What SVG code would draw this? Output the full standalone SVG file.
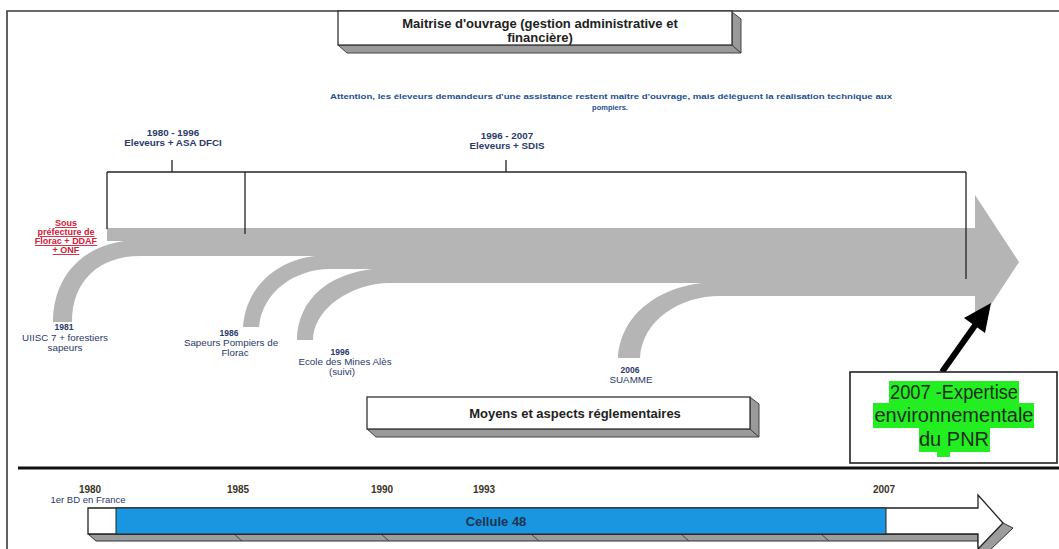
<svg xmlns="http://www.w3.org/2000/svg" width="1059" height="549" viewBox="0 0 1059 549">
<style>
  text { font-family: "Liberation Sans", Arial, sans-serif; }
  .band { fill: #b5b5b5; }
  .frame { stroke: #3a3a3a; stroke-width: 1.6; fill: none; }
  .ln { stroke: #222; stroke-width: 1.3; fill: none; }
  .boxface { fill: #fff; stroke: #333; stroke-width: 1.3; }
  .bevel { fill: #9a9a9a; stroke: #444; stroke-width: 1; }
  .title { font-size: 13px; font-weight: bold; fill: #222; text-anchor: middle; }
  .small { font-size: 8.5px; font-weight: bold; fill: #2a3a6a; text-anchor: middle; }
  .period { font-size: 9.8px; font-weight: bold; fill: #2a3a6a; text-anchor: middle; }
  .desc { font-size: 9.8px; fill: #2a3a6a; text-anchor: middle; }
  .red { font-size: 9px; font-weight: bold; fill: #d0203a; text-anchor: middle; text-decoration: underline; }
  .year { font-size: 10px; font-weight: bold; fill: #3b3424; text-anchor: middle; }
  .green { font-size: 20px; fill: #1c2e1c; text-anchor: middle; }
  .hl { fill: #22ee22; }
</style>

<!-- outer frame -->
<path class="frame" d="M7,549 L7,11 L1059,11"/>
<!-- divider -->
<line x1="18" y1="468" x2="1059" y2="468" stroke="#111" stroke-width="3"/>

<!-- big gray arrow -->
<g id="main-arrow">
  <rect class="band" x="107" y="228" width="869" height="13"/>
  <rect class="band" x="138" y="240" width="838" height="16"/>
  <rect class="band" x="325" y="255" width="651" height="14"/>
  <rect class="band" x="385" y="268" width="591" height="15"/>
  <rect class="band" x="715" y="282" width="261" height="14"/>
  <path class="band" d="M53,322 C53,275 85,240 140,240 L140,256 C100,256 72,280 72,322 Z"/>
  <path class="band" d="M243,327 C246,285 280,255 330,255 L330,269 C295,269 262,292 259,327 Z"/>
  <path class="band" d="M297,340 C297,300 330,268 390,268 L390,283 C350,283 313,310 313,340 Z"/>
  <path class="band" d="M618,358 C620,315 660,282 720,282 L720,296 C680,296 642,320 640,358 Z"/>
  <polygon class="band" points="975,195 1019,262 975,329"/>
</g>

<!-- connectors -->
<g id="connectors">
  <line class="ln" x1="107" y1="172" x2="966" y2="172"/>
  <line class="ln" x1="107" y1="172" x2="107" y2="229"/>
  <line class="ln" x1="245" y1="172" x2="245" y2="234"/>
  <line class="ln" x1="966" y1="172" x2="966" y2="279"/>
  <line class="ln" x1="172" y1="160" x2="172" y2="172"/>
  <line class="ln" x1="506" y1="160" x2="506" y2="172"/>
  <line x1="942" y1="372" x2="976" y2="324" stroke="#000" stroke-width="6"/>
  <polygon points="991,303 964,318 985,333" fill="#000"/>
</g>

<!-- top box -->
<g id="node-maitrise">
  <polygon class="bevel" points="338,45 732,45 741,53 347,53"/>
  <polygon class="bevel" points="732,12 741,19 741,53 732,45"/>
  <rect class="boxface" x="338" y="11" width="394" height="34"/>
  <text class="title" x="540" y="28">Maitrise d'ouvrage (gestion administrative et</text>
  <text class="title" x="540" y="42">financière)</text>
</g>

<g id="node-attention">
  <text x="611" y="99" font-size="7.5" font-weight="bold" fill="#1d4f91" text-anchor="middle" textLength="562" lengthAdjust="spacingAndGlyphs">Attention, les éleveurs demandeurs d'une assistance restent maître d'ouvrage, mais délèguent la réalisation technique aux</text>
  <text x="610" y="110" font-size="7.5" font-weight="bold" fill="#1d4f91" text-anchor="middle">pompiers.</text>
</g>

<g id="node-1980-1996">
  <text class="period" x="173" y="136">1980 - 1996</text>
  <text class="period" x="173" y="146">Eleveurs + ASA DFCI</text>
</g>
<g id="node-1996-2007">
  <text class="period" x="507" y="139">1996 - 2007</text>
  <text class="period" x="507" y="149">Eleveurs + SDIS</text>
</g>

<g id="node-sousprefecture">
  <text class="red" x="66" y="226">Sous</text>
  <text class="red" x="66" y="235">préfecture de</text>
  <text class="red" x="66" y="244">Florac + DDAF</text>
  <text class="red" x="66" y="253">+ ONF</text>
</g>

<g id="node-1981">
  <text class="small" x="64" y="330">1981</text>
  <text class="desc" x="65" y="341">UIISC  7 + forestiers</text>
  <text class="desc" x="65" y="351">sapeurs</text>
</g>
<g id="node-1986">
  <text class="small" x="229" y="336">1986</text>
  <text class="desc" x="231" y="346">Sapeurs Pompiers de</text>
  <text class="desc" x="235" y="356">Florac</text>
</g>
<g id="node-1996">
  <text class="small" x="340" y="355">1996</text>
  <text class="desc" x="345" y="365">Ecole des Mines Alès</text>
  <text class="desc" x="342" y="375">(suivi)</text>
</g>
<g id="node-2006">
  <text class="small" x="630" y="373">2006</text>
  <text class="desc" x="631" y="383">SUAMME</text>
</g>

<!-- bottom label box -->
<g id="node-moyens">
  <polygon class="bevel" points="367,429 750,429 759,437 376,437"/>
  <polygon class="bevel" points="750,397 759,404 759,437 750,429"/>
  <rect class="boxface" x="367" y="397" width="383" height="32"/>
  <text class="title" x="575" y="418">Moyens et aspects réglementaires</text>
</g>

<!-- green expertise box -->
<g id="node-expertise">
  <rect x="850" y="372" width="207" height="91" fill="#fff" stroke="#222" stroke-width="1.6"/>
  <rect class="hl" x="889" y="381" width="130" height="22"/>
  <rect class="hl" x="873" y="403" width="161" height="25"/>
  <rect class="hl" x="919" y="428" width="71" height="24"/>
  <rect class="hl" x="937" y="451" width="13" height="6"/>
  <text class="green" x="954" y="399" textLength="128" lengthAdjust="spacingAndGlyphs">2007 -Expertise</text>
  <text class="green" x="954" y="422">environnementale</text>
  <text class="green" x="954" y="446">du PNR</text>
</g>

<!-- bottom timeline -->
<g id="node-timeline">
  <polygon points="88,534 978,534 985,541 96,541" fill="#9c9c9c" stroke="#333" stroke-width="1"/>
  <polygon points="978,534 978,547 985,549 985,541" fill="#9c9c9c" stroke="#333" stroke-width="1"/>
  <polygon points="1003,523 978,549 988,552 1013,528" fill="#9c9c9c" stroke="#333" stroke-width="1"/>
  <g stroke="#444" stroke-width="1">
    <line x1="234" y1="534" x2="242" y2="541"/>
    <line x1="381" y1="534" x2="389" y2="541"/>
    <line x1="531" y1="534" x2="539" y2="541"/>
    <line x1="681" y1="534" x2="689" y2="541"/>
    <line x1="821" y1="534" x2="829" y2="541"/>
  </g>
  <polygon points="88,508 978,508 978,495 1003,523 978,549 978,534 88,534" fill="#fff" stroke="#222" stroke-width="1.3"/>
  <rect x="116" y="508" width="770" height="26" fill="#1a96e0" stroke="#222" stroke-width="1"/>
  <text x="496" y="526" font-size="13" font-weight="bold" fill="#1d3550" text-anchor="middle">Cellule 48</text>
</g>

<g id="node-years">
  <text class="year" x="90" y="493">1980</text>
  <text x="88" y="503" font-size="9.5" fill="#2a3a6a" text-anchor="middle">1er BD en France</text>
  <text class="year" x="238" y="493">1985</text>
  <text class="year" x="382" y="493">1990</text>
  <text class="year" x="484" y="493">1993</text>
  <text class="year" x="884" y="493">2007</text>
</g>
</svg>
